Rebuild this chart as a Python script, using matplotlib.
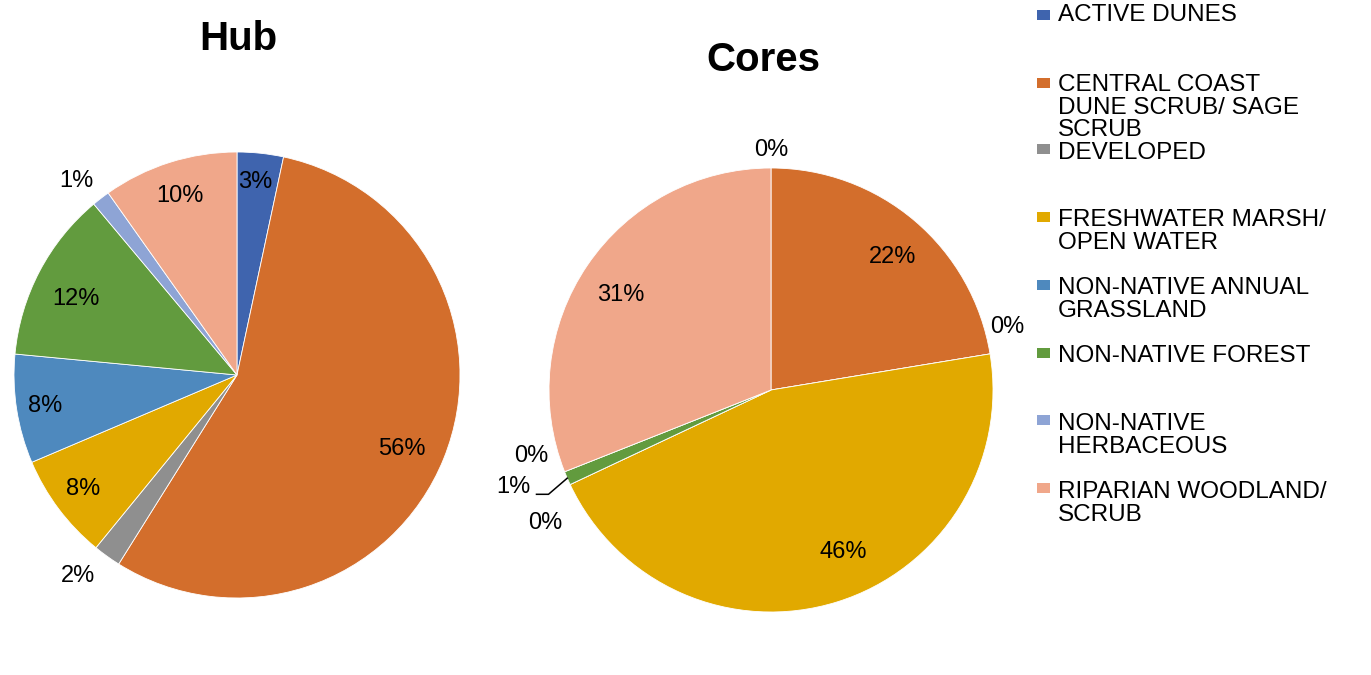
import numpy as np
import matplotlib

matplotlib.use("Agg")
import matplotlib.pyplot as plt
from matplotlib.patches import Rectangle

plt.rcParams["font.family"] = ["Liberation Sans", "DejaVu Sans"]

# habitat categories (legend order = slice order)
categories = [
    "ACTIVE DUNES",
    "CENTRAL COAST\nDUNE SCRUB/ SAGE\nSCRUB",
    "DEVELOPED",
    "FRESHWATER MARSH/\nOPEN WATER",
    "NON-NATIVE ANNUAL\nGRASSLAND",
    "NON-NATIVE FOREST",
    "NON-NATIVE\nHERBACEOUS",
    "RIPARIAN WOODLAND/\nSCRUB",
]
colors = ["#3F64AE", "#D36E2C", "#8F8F8F", "#E1A900",
          "#4E89BE", "#629B3E", "#8EA4D5", "#F0A78A"]

# percent of area
hub_values = [3.35, 55.55, 2.0, 7.7, 7.9, 12.4, 1.3, 9.8]
cores_values = [0.0, 22.4, 0.0, 45.6, 0.0, 1.0, 0.0, 31.0]

W, H = 1371, 675

# label layout: distance from centre (in radii) and angular nudge (deg, clockwise)
hub_dist = [0.87, 0.81, 1.15, 0.86, 0.87, 0.80, 1.13, 0.84]
hub_nudge = [-0.7, 2.2, 2.6, 0.3, -0.3, -2.5, -2.0, 0.0]
cores_dist = [1.08, 0.81, 1.10, 0.80, 1.18, 1.24, 1.12, 0.80]
cores_nudge = [0.0, 2.2, -5.6, -6.8, -5.4, 2.7, 6.2, -2.0]

fig = plt.figure(figsize=(W / 100, H / 100), dpi=100)
ax = fig.add_axes([0, 0, 1, 1])


def draw_pie(values, cx, cy, r, dists, nudges, title, tx, ty):
    cy = H - cy
    wedges, _ = ax.pie(values, colors=colors, startangle=90, counterclock=False,
                       center=(cx, cy), radius=r, frame=True,
                       wedgeprops=dict(edgecolor="white", linewidth=0.6))
    spots = []
    for w, v, d, nd in zip(wedges, values, dists, nudges):
        mid = (w.theta1 + w.theta2) / 2.0
        phi = np.deg2rad(90.0 - mid + nd)
        x = cx + d * r * np.sin(phi)
        y = cy + d * r * np.cos(phi)
        ax.text(x, y, "%.0f%%" % v, ha="center", va="center", fontsize=17)
        spots.append((x, y, np.deg2rad(90.0 - mid)))
    ax.text(tx, H - ty, title, ha="center", va="top",
            fontsize=29, fontweight="bold")
    return spots


draw_pie(hub_values, 237, 375, 223, hub_dist, hub_nudge, "Hub", 238, 20)
spots = draw_pie(cores_values, 771, 390, 222, cores_dist, cores_nudge,
                 "Cores", 763, 41)

# leader line for the thin forest slice in Cores
lx, ly, phi = spots[5]
ex = 771 + 222 * np.sin(phi)
ey = (H - 390) + 222 * np.cos(phi)
ax.plot([lx + 23, lx + 35, ex], [ly - 7, ly - 7, ey], color="black", lw=1.1)

# legend
legend_top = [5, 75, 143, 210, 278, 346, 414, 482]
legend_sq = [10, 78, 144, 212, 280, 348, 415, 483]
for name, col, top, sq in zip(categories, colors, legend_top, legend_sq):
    ax.add_patch(Rectangle((1037, H - sq - 10), 13, 10, color=col, lw=0))
    ax.text(1058, H - top + 1, name, ha="left", va="top",
            fontsize=17.5, linespacing=1.03)

ax.set_xlim(0, W)
ax.set_ylim(0, H)
ax.set_aspect("equal")
ax.axis("off")

fig.savefig("out.png", dpi=100)
